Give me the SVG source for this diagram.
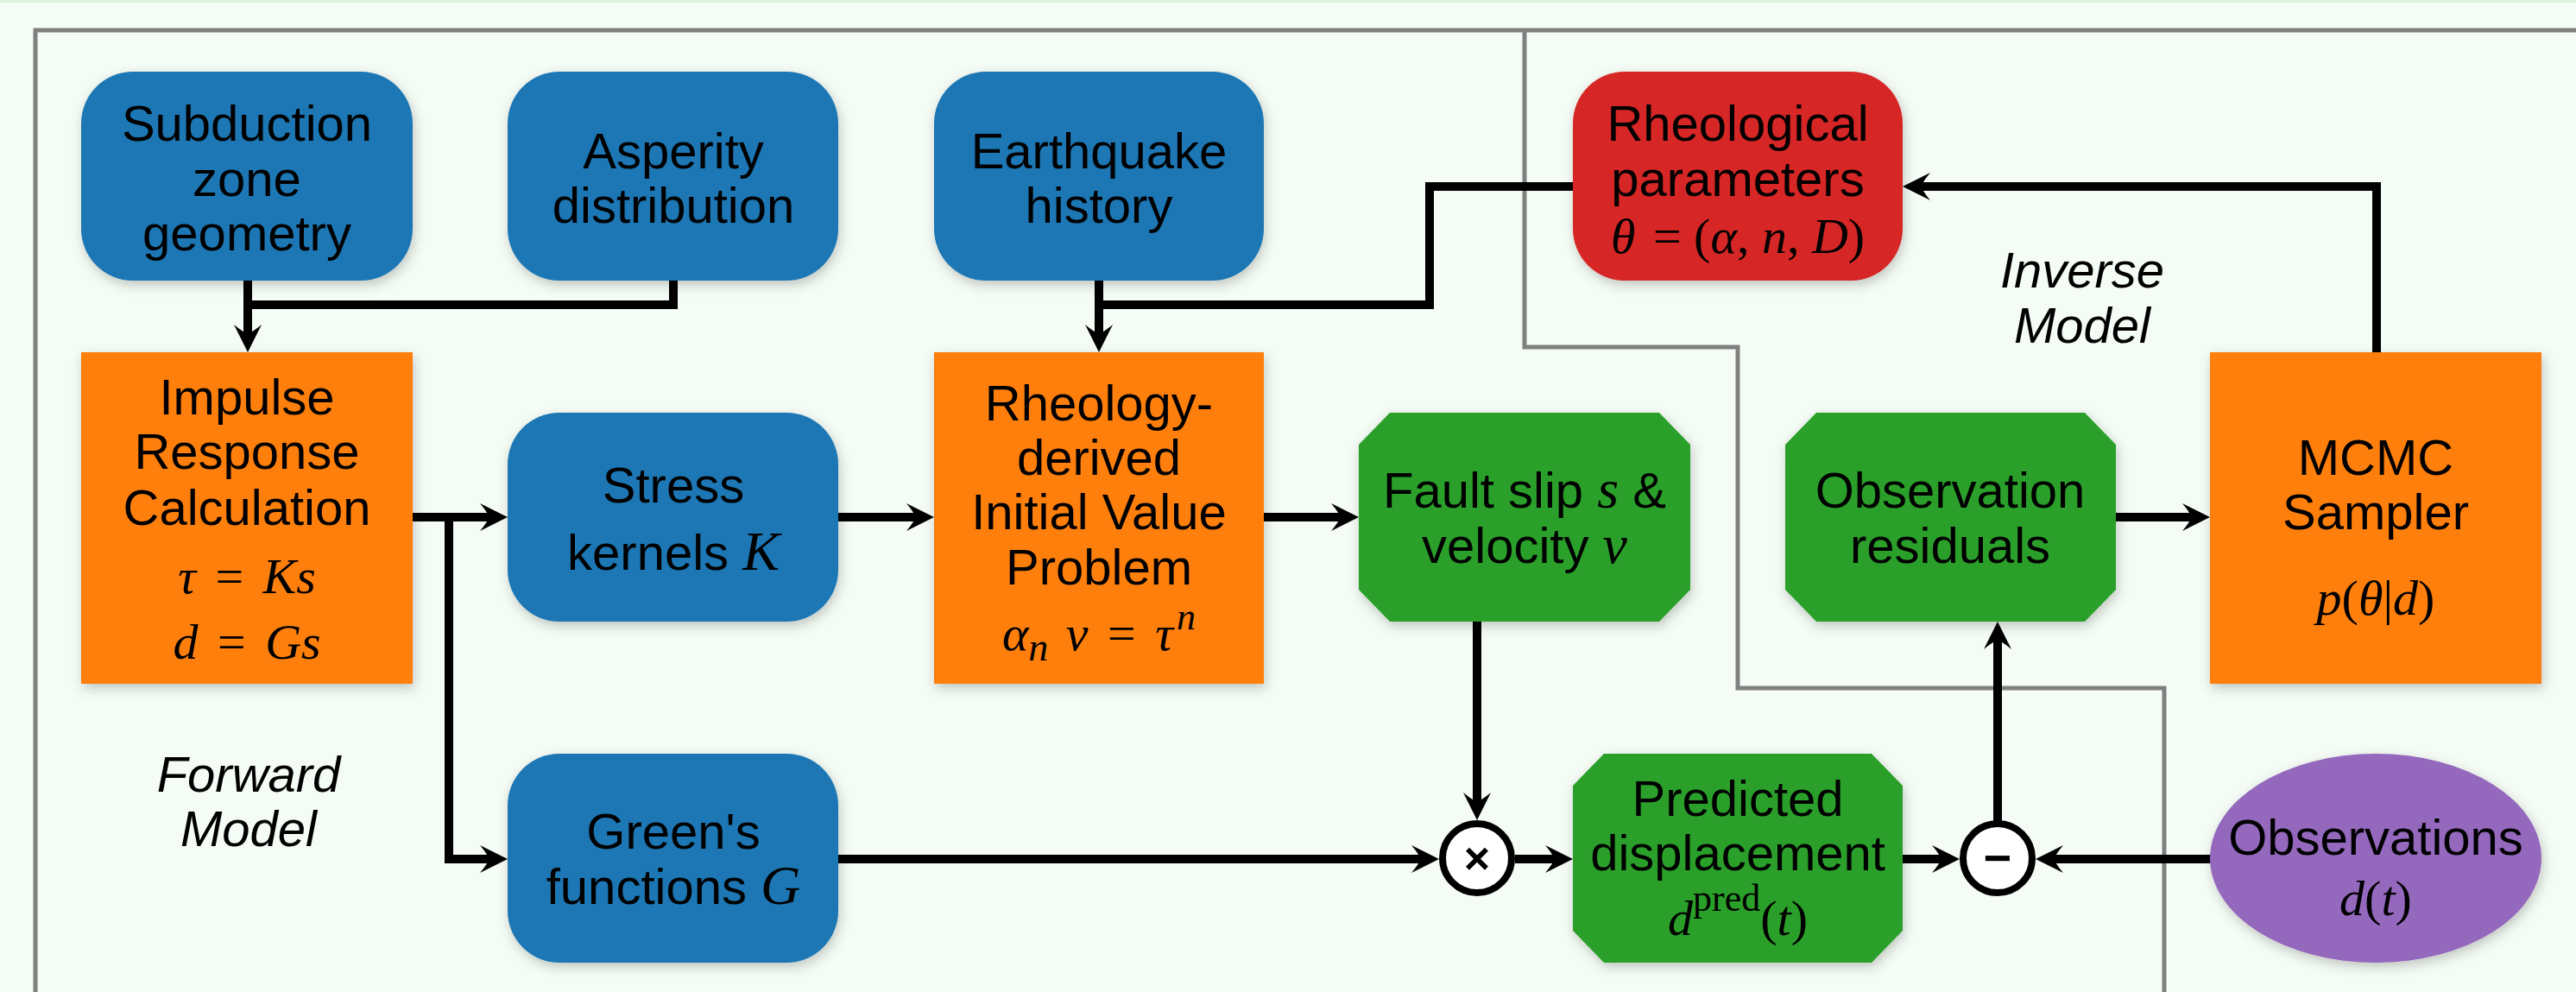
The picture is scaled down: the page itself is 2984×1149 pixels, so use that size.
<svg xmlns="http://www.w3.org/2000/svg" width="2984" height="1149" viewBox="0 0 2984 1149">
<style>
.t{font-family:"Liberation Sans",Arial,sans-serif;font-size:58px;fill:#000;text-anchor:middle}
.it{font-style:italic}
.m{font-family:"Liberation Serif","Times New Roman",serif;font-style:italic}
.r{font-family:"Liberation Serif","Times New Roman",serif;font-style:normal}
.c{fill:none;stroke:#000;stroke-width:10;stroke-linejoin:miter}
.ca{fill:none;stroke:#000;stroke-width:10;marker-end:url(#ah)}
.blue{fill:#1f77b4}.orange{fill:#ff7f0e}.green{fill:#2ca02c}.red{fill:#d62728}.purple{fill:#9467bd}
.sh{filter:url(#shadow)}
.op{fill:#fff;stroke:#000;stroke-width:8}
.sym{font-family:"Liberation Sans",Arial,sans-serif;font-weight:bold;text-anchor:middle}
</style>
<defs>
<filter id="shadow" x="-20%" y="-20%" width="140%" height="150%">
<feDropShadow dx="2" dy="5" stdDeviation="7" flood-color="#000" flood-opacity="0.22"/>
</filter>
<marker id="ah" markerUnits="userSpaceOnUse" viewBox="0 0 32 32" markerWidth="32" markerHeight="32" refX="12" refY="16" orient="auto">
<path d="M32,16 L0,0 Q10,12 10,16 Q10,20 0,32 Z" fill="#000"/>
</marker>
</defs>
<rect x="0" y="0" width="2984" height="1149" fill="#f5fcf5"/>
<rect x="0" y="0" width="2984" height="3" fill="#dbf4db"/>
<g id="frames" fill="none" stroke="#808080">
<rect x="41" y="35" width="3100" height="1300" stroke-width="5"/>
<path d="M1766,35 V402 H2013 V797 H2507 V1160" stroke-width="5"/>
</g>
<g id="connectors">
<path class="ca" d="M287,325 V388"/>
<path class="c" d="M780,325 V353 H287"/>
<path class="ca" d="M1273,325 V388"/>
<path class="c" d="M1822,216 H1656 V353 H1273"/>
<path class="ca" d="M478,599 H568"/>
<path class="ca" d="M520,599 V995 H568"/>
<path class="ca" d="M971,599 H1062"/>
<path class="ca" d="M1464,599 H1554"/>
<path class="ca" d="M1711,720 V930"/>
<path class="ca" d="M971,995 H1647"/>
<path class="ca" d="M1755,995 H1802"/>
<path class="ca" d="M2204,995 H2250"/>
<path class="ca" d="M2561,995 H2378"/>
<path class="ca" d="M2314,951 V740"/>
<path class="ca" d="M2451,599 H2540"/>
<path class="ca" d="M2753,408 V216 H2224"/>
</g>
<g id="subduction">
<rect class="blue sh" x="94" y="83" width="384" height="242" rx="60" ry="60"/>
<text class="t"><tspan x="286" y="163">Subduction</tspan><tspan x="286" y="227">zone</tspan><tspan x="286" y="290">geometry</tspan></text>
</g>
<g id="asperity">
<rect class="blue sh" x="588" y="83" width="383" height="242" rx="60" ry="60"/>
<text class="t"><tspan x="780" y="195">Asperity</tspan><tspan x="780" y="258">distribution</tspan></text>
</g>
<g id="earthquake">
<rect class="blue sh" x="1082" y="83" width="382" height="242" rx="60" ry="60"/>
<text class="t"><tspan x="1273" y="195">Earthquake</tspan><tspan x="1273" y="258">history</tspan></text>
</g>
<g id="rheoparams">
<rect class="red sh" x="1822" y="83" width="382" height="242" rx="60" ry="60"/>
<text class="t"><tspan x="2013" y="163">Rheological</tspan><tspan x="2013" y="227">parameters</tspan></text>
<text class="t" font-size="62" x="2013" y="293"><tspan class="m">θ</tspan><tspan class="r" dx="6"> = (</tspan><tspan class="m">α</tspan><tspan class="r">, </tspan><tspan class="m">n</tspan><tspan class="r">, </tspan><tspan class="m">D</tspan><tspan class="r">)</tspan></text>
</g>
<g id="impulse">
<rect class="orange sh" x="94" y="408" width="384" height="384"/>
<text class="t"><tspan x="286" y="480">Impulse</tspan><tspan x="286" y="543">Response</tspan><tspan x="286" y="608">Calculation</tspan></text>
<text class="t" font-size="67" x="286" y="687"><tspan class="m">τ</tspan><tspan class="r" dx="8"> = </tspan><tspan class="m" dx="8">Ks</tspan></text>
<text class="t" font-size="67" x="286" y="763"><tspan class="m">d</tspan><tspan class="r" dx="8"> = </tspan><tspan class="m" dx="8">Gs</tspan></text>
</g>
<g id="stress">
<rect class="blue sh" x="588" y="478" width="383" height="242" rx="60" ry="60"/>
<text class="t"><tspan x="780" y="582">Stress</tspan><tspan x="780" y="660">kernels <tspan class="m" font-size="64">K</tspan></tspan></text>
</g>
<g id="rheoivp">
<rect class="orange sh" x="1082" y="408" width="382" height="384"/>
<text class="t"><tspan x="1273" y="487">Rheology-</tspan><tspan x="1273" y="550">derived</tspan><tspan x="1273" y="613">Initial Value</tspan><tspan x="1273" y="677">Problem</tspan></text>
<text class="t" font-size="66" x="1273" y="753"><tspan class="m">α</tspan><tspan class="m" font-size="46" dy="12">n</tspan><tspan class="m" dy="-12" dx="6"> v</tspan><tspan class="r" dx="8"> = </tspan><tspan class="m" dx="8">τ</tspan><tspan class="m" font-size="44" dy="-24" dx="4">n</tspan></text>
</g>
<g id="faultslip">
<polygon class="green sh" points="1610,478 1922,478 1958,515 1958,683 1922,720 1610,720 1574,683 1574,515"/>
<text class="t"><tspan x="1766" y="588">Fault slip <tspan class="m" font-size="64">s</tspan> &amp;</tspan><tspan x="1766" y="652">velocity <tspan class="m" font-size="64">v</tspan></tspan></text>
</g>
<g id="obsresiduals">
<polygon class="green sh" points="2104,478 2415,478 2451,515 2451,683 2415,720 2104,720 2068,683 2068,515"/>
<text class="t"><tspan x="2259" y="588">Observation</tspan><tspan x="2259" y="652">residuals</tspan></text>
</g>
<g id="mcmc">
<rect class="orange sh" x="2560" y="408" width="384" height="384"/>
<text class="t"><tspan x="2752" y="550">MCMC</tspan><tspan x="2752" y="613">Sampler</tspan></text>
<text class="t" font-size="67" x="2752" y="712"><tspan class="m">p</tspan><tspan class="r">(</tspan><tspan class="m">θ</tspan><tspan class="r">|</tspan><tspan class="m">d</tspan><tspan class="r">)</tspan></text>
</g>
<g id="greens">
<rect class="blue sh" x="588" y="873" width="383" height="242" rx="60" ry="60"/>
<text class="t"><tspan x="780" y="983">Green's</tspan><tspan x="780" y="1047">functions <tspan class="m" font-size="64">G</tspan></tspan></text>
</g>
<g id="multiply">
<circle class="op" cx="1711" cy="994" r="40"/>
<text class="sym" x="1711" y="1012" font-size="52">×</text>
</g>
<g id="predicted">
<polygon class="green sh" points="1858,873 2168,873 2204,910 2204,1078 2168,1115 1858,1115 1822,1078 1822,910"/>
<text class="t"><tspan x="2013" y="945">Predicted</tspan><tspan x="2013" y="1008">displacement</tspan></text>
<text class="t" font-size="66" x="2013" y="1083"><tspan class="m">d</tspan><tspan class="r" font-size="44" dy="-28">pred</tspan><tspan class="r" dy="28">(</tspan><tspan class="m">t</tspan><tspan class="r">)</tspan></text>
</g>
<g id="subtract">
<circle class="op" cx="2314" cy="994" r="40"/>
<text class="sym" x="2314" y="1013" font-size="56">−</text>
</g>
<g id="observations">
<ellipse class="purple sh" cx="2752" cy="994" rx="192" ry="121"/>
<text class="t"><tspan x="2752" y="990">Observations</tspan></text>
<text class="t" font-size="66" x="2752" y="1060"><tspan class="m">d</tspan><tspan class="r">(</tspan><tspan class="m">t</tspan><tspan class="r">)</tspan></text>
</g>
<g id="labels">
<text class="t it"><tspan x="288" y="917">Forward</tspan><tspan x="288" y="980">Model</tspan></text>
<text class="t it"><tspan x="2412" y="333">Inverse</tspan><tspan x="2412" y="397">Model</tspan></text>
</g>
</svg>
